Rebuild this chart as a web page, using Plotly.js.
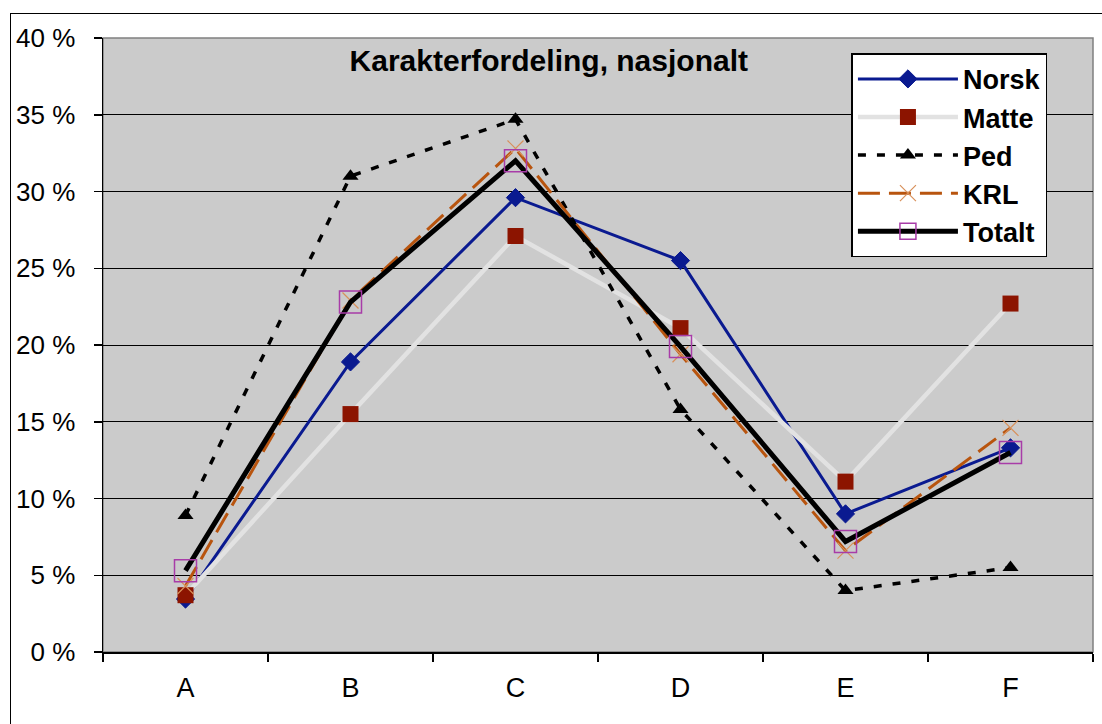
<!DOCTYPE html>
<html>
<head>
<meta charset="utf-8">
<script src="https://cdn.plot.ly/plotly-3.0.1.min.js"></script>
<style>
html,body{margin:0;padding:0;background:#fff;}
#wrap{position:relative;width:1102px;height:724px;}
#chart{position:absolute;left:0;top:0;width:1102px;height:724px;}
#frame{position:absolute;left:10px;top:13px;width:1100px;height:720px;border-left:1.5px solid #000;border-top:1.5px solid #000;pointer-events:none;}
</style>
</head>
<body>
<div id="wrap"><div id="chart"></div><div id="frame"></div></div>
<script>
const categories = ["A", "B", "C", "D", "E", "F"];
const norsk  = [3.45, 18.9, 29.6, 25.5, 9.0, 13.3];
const matte  = [3.7, 15.5, 27.1, 21.1, 11.1, 22.7];
const ped    = [8.9, 31.0, 34.7, 15.8, 4.0, 5.5];
const krl    = [4.3, 22.9, 32.8, 19.4, 6.6, 14.6];
const totalt = [5.3, 22.8, 32.0, 19.9, 7.2, 13.0];
const seriesNames = ["Norsk", "Matte", "Ped", "KRL", "Totalt"];

const traces = [
  {name: seriesNames[0], x: categories, y: norsk, mode: "lines+markers",
   line: {color: "#0a1a90", width: 3},
   marker: {symbol: "diamond", size: 14, color: "#0a1a90", line: {color: "#0a1a90", width: 1}}},
  {name: seriesNames[1], x: categories, y: matte, mode: "lines+markers",
   line: {color: "#e2e2e2", width: 4.5},
   marker: {symbol: "square", size: 16, color: "#8c1400", line: {width: 0}}},
  {name: seriesNames[2], x: categories, y: ped, mode: "lines+markers",
   line: {color: "#000000", width: 3.5, dash: "8px,11px"},
   marker: {symbol: "triangle-up", size: 14, color: "#000000", line: {width: 0}}},
  {name: seriesNames[3], x: categories, y: krl, mode: "lines+markers",
   line: {color: "#b8540e", width: 3, dash: "22px,9px"},
   marker: {symbol: "x-thin", size: 16, color: "#d8905a", line: {color: "#d8905a", width: 1.2}}},
  {name: seriesNames[4], x: categories, y: totalt, mode: "lines+markers",
   line: {color: "#000000", width: 5},
   marker: {symbol: "square-open", size: 22, color: "#a83ca8", line: {color: "#a83ca8", width: 1.5}}}
];

const layout = {
  width: 1102, height: 724,
  margin: {l: 103, r: 9, t: 38, b: 72, pad: 0},
  paper_bgcolor: "#ffffff",
  plot_bgcolor: "#cbcbcb",
  font: {family: "Liberation Sans, Arial, sans-serif", size: 26, color: "#000"},
  title: {
    text: "<b>Karakterfordeling, nasjonalt</b>",
    font: {family: "Liberation Sans, Arial, sans-serif", size: 30, color: "#000"},
    xref: "container", x: 0.498, xanchor: "center",
    yref: "container", y: 0.917, yanchor: "middle"
  },
  xaxis: {
    type: "category", range: [-0.5, 5.5],
    tickson: "boundaries", ticks: "outside", ticklen: 8, tickwidth: 1.5, tickcolor: "#000",
    showgrid: false, zeroline: false,
    showline: true, linecolor: "#000", linewidth: 1.5,
    tickfont: {size: 27, color: "#000"},
    ticklabelstandoff: 11
  },
  yaxis: {
    range: [0, 40], dtick: 5, tick0: 0, ticksuffix: " %",
    ticks: "outside", ticklen: 8, tickwidth: 1.5, tickcolor: "#000",
    showgrid: true, gridcolor: "#000", gridwidth: 1,
    zeroline: false, showline: true, linecolor: "#000", linewidth: 1.5,
    tickfont: {size: 26, color: "#000"},
    ticklabelstandoff: 13
  },
  shapes: [{type: "rect", xref: "paper", yref: "paper", x0: 0, x1: 1, y0: 0, y1: 1,
            line: {color: "#808080", width: 1.5}, layer: "below"}],
  showlegend: true,
  legend: {
    x: 0.756, xanchor: "left", y: 0.975, yanchor: "top",
    bgcolor: "#ffffff", bordercolor: "#000", borderwidth: 1.5,
    font: {family: "Liberation Sans, Arial, sans-serif", size: 27, color: "#000", weight: "bold"},
    itemwidth: 100, tracegroupgap: 0
  }
};

Plotly.newPlot("chart", traces, layout, {displayModeBar: false, staticPlot: true});
</script>
</body>
</html>
